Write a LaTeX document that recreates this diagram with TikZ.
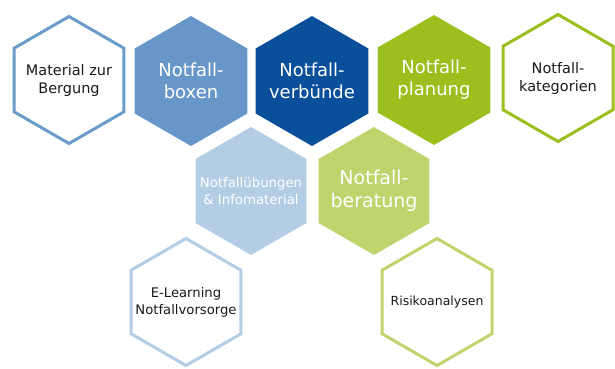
\documentclass[tikz,border=0pt]{standalone}
\usepackage{fontspec}
\setmainfont{DejaVu Sans}
\definecolor{cA}{HTML}{6A9BC9}
\definecolor{cB}{HTML}{6797C8}
\definecolor{cC}{HTML}{0A4F9A}
\definecolor{cD}{HTML}{9BBF1D}
\definecolor{cF}{HTML}{B3CDE5}
\definecolor{cG}{HTML}{C0D46E}
\definecolor{txt}{HTML}{1A1A1A}
\newcommand\hexpath[3]{\path[#3] (#1) +(90:#2) -- +(150:#2) -- +(210:#2) -- +(270:#2) -- +(330:#2) -- +(30:#2) -- cycle;}
\tikzset{
  lbl/.style={inner sep=0pt, align=center},
  wlbl/.style={lbl, text=white},
  dlbl/.style={lbl, text=txt},
  hexfill/.style={fill=#1},
  hexline/.style={draw=#1, line width=3pt, line join=miter},
  big/.style={font=\fontsize{18}{22}\selectfont},
  mid/.style={font=\fontsize{14.5}{18}\selectfont},
}
\begin{document}
\begin{tikzpicture}[x=1pt,y=-1pt]
\useasboundingbox (0,0) rectangle (615,369);
\coordinate (pA) at (69,80);
\coordinate (pB) at (191,81);
\coordinate (pC) at (312,81);
\coordinate (pD) at (434,80);
\coordinate (pE) at (558,78);
\coordinate (pF) at (251,191);
\coordinate (pG) at (374,191);
\coordinate (pH) at (186,302);
\coordinate (pI) at (437,302);
\hexpath{pA}{63.5}{hexline=cA}
\hexpath{pB}{65}{hexfill=cB}
\hexpath{pC}{65}{hexfill=cC}
\hexpath{pD}{65}{hexfill=cD}
\hexpath{pE}{63.5}{hexline=cD}
\hexpath{pF}{64}{hexfill=cF}
\hexpath{pG}{64}{hexfill=cG}
\hexpath{pH}{63.5}{hexline=cF}
\hexpath{pI}{63.5}{hexline=cG}
\node[dlbl, mid] (mat) at (pA) {Material zur\\Bergung};
\node[wlbl, big] (box) at (pB) {Notfall-\\boxen};
\node[wlbl, big] (verb) at (pC) {Notfall-\\verbünde};
\node[wlbl, big] (plan) at (pD) {Notfall-\\planung};
\node[dlbl, mid] (kat) at (pE) {Notfall-\\kategorien};
\node[wlbl, font=\fontsize{13.3}{17}\selectfont] (ueb) at (pF) {Notfallübungen\\\& Infomaterial};
\node[wlbl, font=\fontsize{19}{23}\selectfont] (ber) at (pG) {Notfall-\\beratung};
\node[dlbl, font=\fontsize{13.2}{17}\selectfont] (elearn) at (pH) {E-Learning\\Notfallvorsorge};
\node[dlbl, font=\fontsize{12.5}{16}\selectfont] (risk) at (pI) {Risikoanalysen};
\end{tikzpicture}
\end{document}
